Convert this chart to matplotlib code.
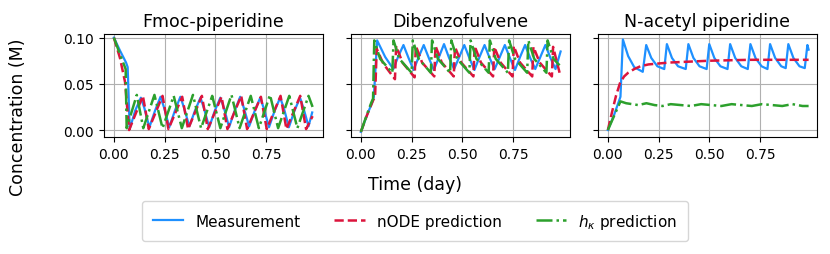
import numpy as np
import matplotlib
matplotlib.use("Agg")
import matplotlib.pyplot as plt

# Fmoc-piperidine
fmoc_meas_t = [0.000, 0.030, 0.060, 0.068, 0.078, 0.105, 0.133, 0.150, 0.175, 0.203, 0.230, 0.248,
               0.273, 0.301, 0.328, 0.346, 0.372, 0.400, 0.427, 0.445, 0.470, 0.498, 0.525, 0.543,
               0.568, 0.596, 0.623, 0.641, 0.667, 0.695, 0.722, 0.740, 0.765, 0.793, 0.820, 0.838,
               0.863, 0.891, 0.918, 0.936, 0.960, 0.978]
fmoc_meas = [0.100, 0.086, 0.073, 0.068, 0.001, 0.021, 0.035, 0.024, 0.003, 0.021, 0.036, 0.024,
             0.003, 0.021, 0.036, 0.024, 0.004, 0.021, 0.035, 0.023, 0.003, 0.021, 0.035, 0.024,
             0.003, 0.021, 0.036, 0.024, 0.004, 0.021, 0.035, 0.023, 0.003, 0.021, 0.035, 0.024,
             0.003, 0.021, 0.035, 0.023, 0.004, 0.019]
fmoc_node_t = [0.000, 0.030, 0.055, 0.075, 0.143, 0.172, 0.240, 0.269, 0.337, 0.366, 0.434, 0.463,
               0.531, 0.560, 0.628, 0.657, 0.725, 0.754, 0.822, 0.851, 0.919, 0.948, 0.980]
fmoc_node = [0.100, 0.078, 0.052, 0.000, 0.037, 0.001, 0.037, 0.001, 0.036, 0.001, 0.037, 0.001,
             0.036, 0.001, 0.037, 0.001, 0.036, 0.001, 0.037, 0.001, 0.037, 0.001, 0.015]
fmoc_hk_t = [0.000, 0.030, 0.058, 0.063, 0.113, 0.145, 0.200, 0.240, 0.295, 0.335, 0.390, 0.430,
             0.485, 0.525, 0.580, 0.620, 0.675, 0.715, 0.770, 0.810, 0.865, 0.905, 0.960, 0.980]
fmoc_hk = [0.100, 0.082, 0.066, 0.002, 0.038, 0.002, 0.038, 0.002, 0.037, 0.002, 0.038, 0.002,
           0.037, 0.002, 0.038, 0.002, 0.037, 0.002, 0.038, 0.002, 0.037, 0.002, 0.037, 0.025]

# Dibenzofulvene
dbf_meas_t = [0.000, 0.030, 0.056, 0.064, 0.080, 0.120, 0.160, 0.185, 0.210, 0.235, 0.260, 0.285,
              0.310, 0.335, 0.360, 0.385, 0.410, 0.435, 0.460, 0.485, 0.510, 0.535, 0.560, 0.585,
              0.610, 0.635, 0.660, 0.685, 0.710, 0.735, 0.760, 0.785, 0.810, 0.835, 0.860, 0.885,
              0.910, 0.935, 0.960, 0.985]
dbf_meas = [-0.002, 0.016, 0.030, 0.036, 0.097, 0.079, 0.066, 0.080, 0.092, 0.078, 0.065, 0.079,
            0.092, 0.078, 0.065, 0.079, 0.093, 0.078, 0.066, 0.079, 0.092, 0.078, 0.065, 0.079,
            0.092, 0.078, 0.066, 0.079, 0.092, 0.078, 0.065, 0.079, 0.092, 0.078, 0.066, 0.079,
            0.092, 0.078, 0.066, 0.085]
dbf_node_t = [0.000, 0.030, 0.060, 0.070, 0.078, 0.110, 0.168, 0.174, 0.205, 0.265, 0.271, 0.302,
              0.362, 0.368, 0.399, 0.458, 0.464, 0.495, 0.555, 0.561, 0.592, 0.652, 0.658, 0.689,
              0.748, 0.754, 0.785, 0.845, 0.851, 0.882, 0.942, 0.948, 0.980]
dbf_node = [-0.002, 0.016, 0.032, 0.036, 0.088, 0.072, 0.055, 0.091, 0.073, 0.057, 0.091, 0.073,
            0.058, 0.091, 0.073, 0.058, 0.090, 0.073, 0.058, 0.091, 0.073, 0.058, 0.090, 0.073,
            0.058, 0.091, 0.073, 0.058, 0.090, 0.073, 0.058, 0.090, 0.062]
dbf_hk_t = [0.000, 0.030, 0.052, 0.060, 0.066, 0.095, 0.155, 0.161, 0.190, 0.250, 0.256, 0.285,
            0.345, 0.351, 0.380, 0.440, 0.446, 0.475, 0.535, 0.541, 0.570, 0.630, 0.636, 0.665,
            0.725, 0.731, 0.760, 0.820, 0.826, 0.855, 0.915, 0.921, 0.950, 0.980]
dbf_hk = [-0.002, 0.017, 0.030, 0.034, 0.097, 0.077, 0.062, 0.097, 0.077, 0.062, 0.097, 0.077,
          0.062, 0.097, 0.077, 0.062, 0.097, 0.077, 0.062, 0.097, 0.077, 0.062, 0.097, 0.077,
          0.062, 0.097, 0.077, 0.062, 0.097, 0.077, 0.062, 0.097, 0.077, 0.070]

# N-acetyl piperidine
nap_meas_t = [0.000, 0.030, 0.062, 0.074, 0.100, 0.130, 0.172, 0.189, 0.214, 0.244, 0.278, 0.291,
              0.316, 0.346, 0.384, 0.397, 0.422, 0.452, 0.487, 0.500, 0.525, 0.555, 0.590, 0.603,
              0.628, 0.658, 0.690, 0.703, 0.728, 0.758, 0.787, 0.800, 0.825, 0.855, 0.877, 0.890,
              0.915, 0.945, 0.971, 0.984, 0.990]
nap_meas = [0.000, 0.016, 0.036, 0.098, 0.080, 0.068, 0.063, 0.092, 0.078, 0.069, 0.066, 0.093,
            0.078, 0.069, 0.066, 0.093, 0.078, 0.069, 0.066, 0.093, 0.078, 0.069, 0.066, 0.093,
            0.078, 0.069, 0.066, 0.093, 0.078, 0.069, 0.066, 0.093, 0.078, 0.069, 0.067, 0.093,
            0.078, 0.069, 0.067, 0.092, 0.087]
nap_node_t = [0.0, 0.02, 0.04, 0.06, 0.08, 0.10, 0.13, 0.16, 0.20, 0.25, 0.30, 0.40, 0.50, 0.60,
              0.70, 0.80, 0.90, 0.99]
nap_node = [0.0, 0.019, 0.037, 0.051, 0.058, 0.062, 0.066, 0.069, 0.071, 0.072, 0.073, 0.074,
            0.075, 0.0755, 0.076, 0.076, 0.076, 0.076]
nap_hk_t = [0.0, 0.03, 0.062, 0.09, 0.12, 0.15, 0.19, 0.23, 0.27, 0.31, 0.36, 0.41, 0.46, 0.51,
            0.56, 0.61, 0.66, 0.71, 0.76, 0.81, 0.86, 0.91, 0.96, 0.99]
nap_hk = [0.0, 0.015, 0.031, 0.029, 0.028, 0.027, 0.029, 0.027, 0.026, 0.028, 0.027, 0.026,
          0.028, 0.027, 0.026, 0.028, 0.027, 0.026, 0.028, 0.027, 0.026, 0.028, 0.026, 0.026]

titles = ["Fmoc-piperidine", "Dibenzofulvene", "N-acetyl piperidine"]
series = [
    (fmoc_meas_t, fmoc_meas, fmoc_node_t, fmoc_node, fmoc_hk_t, fmoc_hk),
    (dbf_meas_t, dbf_meas, dbf_node_t, dbf_node, dbf_hk_t, dbf_hk),
    (nap_meas_t, nap_meas, nap_node_t, nap_node, nap_hk_t, nap_hk),
]

fig, axes = plt.subplots(1, 3, figsize=(8.3, 2.55), dpi=100, sharey=True)
plt.subplots_adjust(left=0.125, right=0.984, bottom=0.459, top=0.863, wspace=0.128)

for ax, title, s in zip(axes, titles, series):
    l1, = ax.plot(s[0], s[1], color="#1e90ff", lw=1.6, label="Measurement")
    l2, = ax.plot(s[2], s[3], color="#dc143c", lw=1.8, ls="--", label="nODE prediction")
    l3, = ax.plot(s[4], s[5], color="#2ca02c", lw=1.8, ls="-.", label=r"$h_\kappa$ prediction")
    ax.set_title(title, fontsize=12.5)
    ax.set_xlim(-0.05, 1.03)
    ax.set_xticks([0.0, 0.25, 0.5, 0.75])
    ax.grid(True, color="#b0b0b0", lw=0.8)
    ax.tick_params(labelsize=10)

axes[0].set_ylim(-0.0075, 0.104)
axes[0].set_yticks([0.0, 0.05, 0.1])

fig.text(0.5, 0.275, "Time (day)", ha="center", va="center", fontsize=12.5)
fig.text(0.022, 0.54, "Concentration (M)", ha="center", va="center", rotation=90, fontsize=12.5)
fig.legend(handles=[l1, l2, l3], loc="lower center", bbox_to_anchor=(0.5, 0.02), ncol=3,
           fontsize=11, columnspacing=2.2, borderpad=0.7)

plt.savefig("out.png", dpi=100)
